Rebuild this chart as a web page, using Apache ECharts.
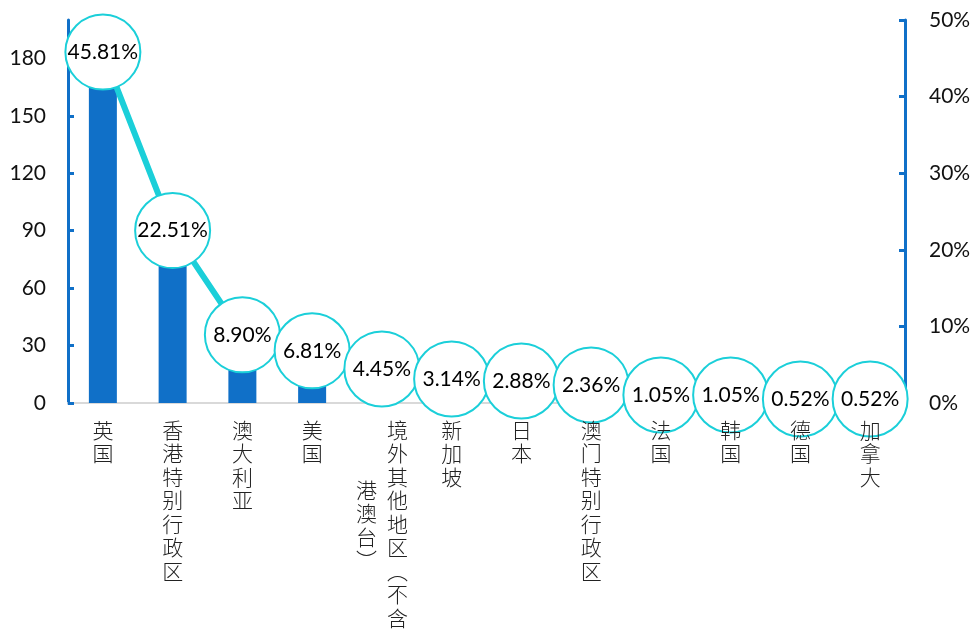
<!DOCTYPE html>
<html>
<head>
<meta charset="utf-8">
<script src="https://cdn.jsdelivr.net/npm/echarts@6/dist/echarts.min.js"></script>
<style>html,body{margin:0;padding:0;background:#fff}#c{width:974px;height:633px}</style>
</head>
<body>
<div id="c"></div>
<script>
// ---- data ----
var categories = ['英国','香港特别行政区','澳大利亚','美国','境外其他地区（不含港澳台）','新加坡','日本','澳门特别行政区','法国','韩国','德国','加拿大'];
var counts = [175, 86, 34, 26, 17, 12, 11, 9, 4, 4, 2, 2];
var shares = [45.81, 22.51, 8.90, 6.81, 4.45, 3.14, 2.88, 2.36, 1.05, 1.05, 0.52, 0.52];
var leftTicks = [0, 30, 60, 90, 120, 150, 180];
var rightTicks = [0, 10, 20, 30, 40, 50];
// two-column vertical label for the long category
var specialIndex = 4;
var specialCol1 = ['境','外','其','他','地','区','︵','不','含'];
var specialCol2 = ['港','澳','台','︶'];

var blue = '#1070C8';
var cyan = '#1BCFD9';
var numFont = 'Lato, "Liberation Sans", sans-serif';
var cjkFont = '"Noto Sans CJK SC", sans-serif';

var labelBase = {
  interval: 0,
  fontFamily: cjkFont,
  fontSize: 21,
  fontWeight: 300,
  lineHeight: 23.5,
  color: '#222'
};

var chart = echarts.init(document.getElementById('c'), null, {renderer: 'canvas'});
chart.setOption({
  animation: false,
  grid: {left: 68, right: 69, top: 20, bottom: 230, containLabel: false},
  xAxis: [{
    type: 'category',
    data: categories,
    position: 'bottom',
    z: 0,
    axisLine: {show: true, lineStyle: {color: '#D9D9D9', width: 2}},
    axisTick: {show: false},
    axisLabel: {show: false, interval: 0}
  }, {
    type: 'category',
    data: categories,
    position: 'bottom',
    z: 10,
    axisLine: {show: false},
    axisTick: {show: false},
    axisLabel: Object.assign({}, labelBase, {
      margin: 15,
      formatter: function (v, i) {
        if (i === specialIndex) return '{r|' + specialCol1.join('\n') + '}';
        return v.split('').join('\n');
      },
      rich: {
        r: {width: 52, align: 'right', fontFamily: cjkFont, fontSize: 21, fontWeight: 300, lineHeight: 23.5, color: '#222'}
      }
    })
  }, {
    type: 'category',
    data: categories,
    position: 'bottom',
    z: 10,
    axisLine: {show: false},
    axisTick: {show: false},
    axisLabel: Object.assign({}, labelBase, {
      margin: 75,
      formatter: function (v, i) {
        if (i === specialIndex) return '{l|' + specialCol2.join('\n') + '}';
        return '';
      },
      rich: {
        l: {width: 52, align: 'left', fontFamily: cjkFont, fontSize: 21, fontWeight: 300, lineHeight: 23.5, color: '#222'}
      }
    })
  }],
  yAxis: [{
    type: 'value',
    min: 0,
    max: 200,
    interval: 10,
    position: 'left',
    splitLine: {show: false},
    axisLine: {show: true, lineStyle: {color: blue, width: 3}},
    axisTick: {show: true, inside: true, length: 6, lineStyle: {color: blue, width: 3}, customValues: leftTicks},
    axisLabel: {margin: 22, fontFamily: numFont, fontSize: 21, color: '#111', customValues: leftTicks}
  }, {
    type: 'value',
    min: 0,
    max: 50,
    interval: 10,
    position: 'right',
    splitLine: {show: false},
    axisLine: {show: true, lineStyle: {color: blue, width: 3}},
    axisTick: {show: true, inside: true, length: 6, lineStyle: {color: blue, width: 3}, customValues: rightTicks},
    axisLabel: {margin: 24, fontFamily: numFont, fontSize: 21, color: '#111', customValues: rightTicks,
      formatter: function (v) { return v + '%'; }}
  }],
  series: [{
    type: 'bar',
    xAxisIndex: 0,
    yAxisIndex: 0,
    data: counts,
    barWidth: 28,
    itemStyle: {color: blue}
  }, {
    type: 'line',
    xAxisIndex: 0,
    yAxisIndex: 1,
    data: shares,
    symbol: 'circle',
    symbolSize: 75,
    showSymbol: true,
    showAllSymbol: true,
    lineStyle: {color: cyan, width: 6},
    itemStyle: {color: '#fff', borderColor: cyan, borderWidth: 2},
    label: {
      show: true,
      position: 'inside',
      fontFamily: numFont,
      fontSize: 21,
      color: '#000',
      formatter: function (p) { return p.value.toFixed(2) + '%'; }
    },
    z: 3
  }]
});
</script>
</body>
</html>
